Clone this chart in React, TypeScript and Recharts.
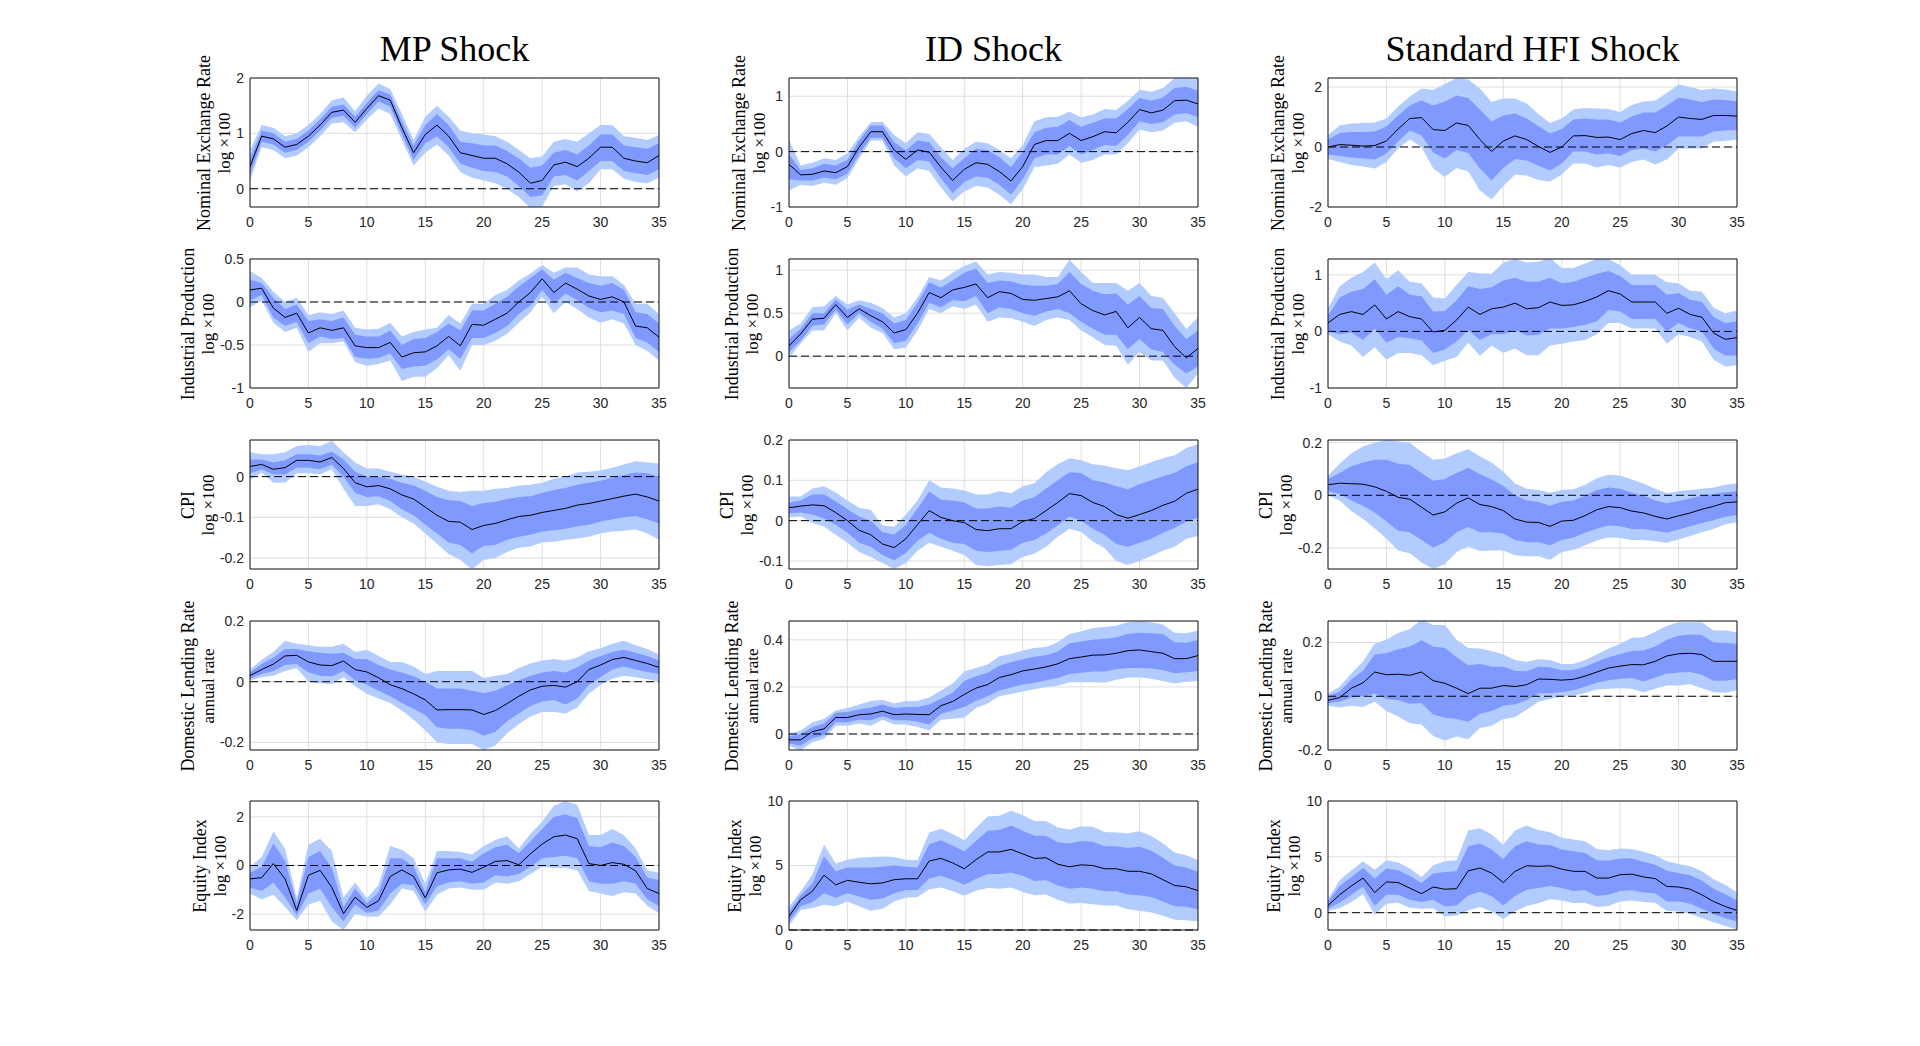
import React from "react";
import {
  ComposedChart,
  Area,
  Line,
  XAxis,
  YAxis,
  CartesianGrid,
  ReferenceLine,
  ReferenceArea,
} from "recharts";

// horizons (months) and shared x ticks
const HORIZONS = [
  0, 1, 2, 3, 4, 5, 6, 7, 8, 9, 10, 11, 12, 13, 14, 15, 16, 17, 18, 19, 20,
  21, 22, 23, 24, 25, 26, 27, 28, 29, 30, 31, 32, 33, 34, 35,
];
const X_TICKS = [0, 5, 10, 15, 20, 25, 30, 35];

const SHOCKS = ["MP Shock", "ID Shock", "Standard HFI Shock"];
const VARIABLES = [
  ["Nominal Exchange Rate", "log ×100"],
  ["Industrial Production", "log ×100"],
  ["CPI", "log ×100"],
  ["Domestic Lending Rate", "annual rate"],
  ["Equity Index", "log ×100"],
];

// ---------- MP shock ----------
const mpNerMid = [0.4,0.95,0.9,0.75,0.8,0.95,1.15,1.38,1.42,1.2,1.45,1.68,1.6,1.1,0.65,0.98,1.15,0.95,0.65,0.6,0.55,0.55,0.45,0.3,0.1,0.15,0.43,0.48,0.4,0.55,0.75,0.75,0.55,0.5,0.47,0.6];
const mpNerHi68 = [0.55,1.05,1.0,0.85,0.9,1.05,1.25,1.48,1.52,1.3,1.55,1.78,1.7,1.22,0.78,1.15,1.35,1.15,0.85,0.82,0.78,0.78,0.68,0.55,0.38,0.42,0.65,0.7,0.62,0.78,0.98,0.98,0.78,0.75,0.72,0.82];
const mpNerLo68 = [0.25,0.85,0.8,0.65,0.7,0.85,1.05,1.28,1.32,1.1,1.35,1.58,1.48,0.98,0.52,0.82,0.95,0.75,0.45,0.38,0.32,0.3,0.22,0.05,-0.15,-0.12,0.22,0.25,0.15,0.32,0.5,0.5,0.32,0.28,0.25,0.35];
const mpNerHi90 = [0.7,1.15,1.1,0.95,1.0,1.15,1.35,1.6,1.65,1.4,1.68,1.9,1.8,1.35,0.88,1.3,1.5,1.3,1.05,1.0,0.98,0.95,0.85,0.7,0.55,0.58,0.85,0.9,0.85,1.0,1.15,1.15,0.95,0.92,0.88,0.97];
const mpNerLo90 = [0.15,0.75,0.7,0.55,0.6,0.75,0.95,1.18,1.2,1.02,1.25,1.45,1.35,0.88,0.42,0.65,0.8,0.6,0.3,0.2,0.15,0.1,0.0,-0.15,-0.35,-0.32,0.05,0.08,-0.05,0.1,0.35,0.35,0.18,0.12,0.1,0.2];

const mpIpMid = [0.14,0.16,-0.07,-0.18,-0.13,-0.36,-0.3,-0.33,-0.3,-0.51,-0.53,-0.53,-0.47,-0.64,-0.59,-0.58,-0.51,-0.4,-0.51,-0.26,-0.27,-0.2,-0.13,0.0,0.11,0.27,0.11,0.22,0.15,0.07,0.03,0.06,0.0,-0.28,-0.3,-0.41];
const mpIpHi68 = [0.26,0.22,0.05,-0.08,-0.03,-0.22,-0.2,-0.22,-0.18,-0.38,-0.4,-0.4,-0.33,-0.5,-0.43,-0.42,-0.35,-0.25,-0.33,-0.1,-0.1,-0.02,0.06,0.18,0.28,0.38,0.26,0.34,0.28,0.22,0.19,0.22,0.14,-0.12,-0.14,-0.25];
const mpIpLo68 = [0.02,0.08,-0.18,-0.28,-0.23,-0.48,-0.4,-0.43,-0.42,-0.64,-0.66,-0.65,-0.6,-0.78,-0.75,-0.74,-0.67,-0.55,-0.66,-0.42,-0.42,-0.36,-0.28,-0.14,-0.04,0.14,-0.02,0.1,0.02,-0.07,-0.12,-0.1,-0.14,-0.42,-0.47,-0.58];
const mpIpHi90 = [0.36,0.28,0.12,0.0,0.05,-0.15,-0.12,-0.14,-0.1,-0.3,-0.32,-0.31,-0.24,-0.4,-0.35,-0.32,-0.3,-0.15,-0.25,-0.02,-0.02,0.08,0.14,0.25,0.33,0.43,0.34,0.4,0.4,0.32,0.3,0.3,0.2,-0.02,-0.02,-0.14];
const mpIpLo90 = [-0.06,0.02,-0.24,-0.35,-0.3,-0.58,-0.48,-0.48,-0.46,-0.7,-0.74,-0.72,-0.68,-0.92,-0.87,-0.87,-0.77,-0.62,-0.8,-0.5,-0.5,-0.45,-0.37,-0.24,-0.12,0.06,-0.13,0.0,-0.08,-0.18,-0.24,-0.2,-0.25,-0.5,-0.57,-0.68];

const mpCpiMid = [0.025,0.03,0.018,0.022,0.04,0.04,0.036,0.047,0.02,-0.015,-0.025,-0.022,-0.03,-0.045,-0.055,-0.075,-0.095,-0.11,-0.112,-0.13,-0.12,-0.115,-0.106,-0.098,-0.095,-0.088,-0.083,-0.078,-0.07,-0.066,-0.06,-0.054,-0.048,-0.043,-0.05,-0.06];
const mpCpiHi68 = [0.042,0.042,0.035,0.04,0.055,0.055,0.052,0.062,0.042,0.012,0.0,0.0,-0.005,-0.015,-0.022,-0.035,-0.05,-0.058,-0.06,-0.072,-0.065,-0.062,-0.055,-0.05,-0.048,-0.04,-0.033,-0.028,-0.02,-0.015,-0.01,-0.003,0.004,0.01,0.008,0.0];
const mpCpiLo68 = [0.008,0.018,0.005,0.005,0.022,0.022,0.018,0.03,0.0,-0.04,-0.05,-0.048,-0.06,-0.08,-0.095,-0.118,-0.14,-0.162,-0.168,-0.188,-0.17,-0.168,-0.155,-0.148,-0.143,-0.135,-0.132,-0.128,-0.122,-0.118,-0.11,-0.105,-0.1,-0.097,-0.105,-0.115];
const mpCpiHi90 = [0.06,0.055,0.055,0.06,0.075,0.078,0.075,0.088,0.06,0.035,0.02,0.02,0.012,0.005,0.0,-0.012,-0.025,-0.035,-0.038,-0.035,-0.035,-0.03,-0.028,-0.022,-0.02,-0.015,-0.005,0.0,0.01,0.012,0.015,0.022,0.03,0.038,0.035,0.032];
const mpCpiLo90 = [-0.008,0.01,-0.015,-0.015,0.008,0.008,0.005,0.018,-0.03,-0.072,-0.072,-0.068,-0.08,-0.1,-0.115,-0.14,-0.165,-0.19,-0.205,-0.228,-0.205,-0.2,-0.185,-0.175,-0.172,-0.162,-0.16,-0.155,-0.152,-0.148,-0.14,-0.135,-0.133,-0.13,-0.14,-0.155];

const mpDlrMid = [0.02,0.04,0.058,0.085,0.087,0.065,0.055,0.053,0.068,0.04,0.032,0.013,-0.01,-0.023,-0.04,-0.06,-0.093,-0.092,-0.092,-0.093,-0.108,-0.095,-0.072,-0.048,-0.027,-0.015,-0.012,-0.018,0.0,0.04,0.055,0.073,0.08,0.07,0.06,0.047];
const mpDlrHi68 = [0.03,0.058,0.08,0.108,0.108,0.1,0.095,0.092,0.095,0.075,0.075,0.055,0.04,0.03,0.018,0.0,-0.022,-0.022,-0.022,-0.03,-0.038,-0.03,-0.012,0.005,0.02,0.03,0.035,0.03,0.048,0.07,0.085,0.098,0.105,0.095,0.085,0.07];
const mpDlrLo68 = [0.01,0.025,0.035,0.055,0.058,0.03,0.02,0.018,0.035,0.005,-0.01,-0.03,-0.048,-0.07,-0.09,-0.11,-0.15,-0.155,-0.155,-0.16,-0.178,-0.165,-0.13,-0.105,-0.08,-0.065,-0.06,-0.075,-0.055,-0.01,0.015,0.04,0.05,0.04,0.032,0.025];
const mpDlrHi90 = [0.04,0.072,0.098,0.135,0.125,0.12,0.115,0.115,0.125,0.098,0.105,0.085,0.065,0.065,0.05,0.025,0.035,0.035,0.035,0.035,0.012,0.02,0.025,0.045,0.06,0.07,0.075,0.07,0.08,0.1,0.11,0.125,0.135,0.12,0.108,0.09];
const mpDlrLo90 = [0.005,0.015,0.02,0.035,0.045,0.0,-0.005,-0.008,0.015,-0.015,-0.04,-0.055,-0.07,-0.095,-0.125,-0.16,-0.2,-0.205,-0.205,-0.205,-0.225,-0.21,-0.17,-0.14,-0.115,-0.1,-0.1,-0.105,-0.085,-0.04,-0.01,0.01,0.02,0.015,0.008,0.0];

const mpEqMid = [-0.55,-0.5,0.08,-0.55,-1.85,-0.4,-0.2,-0.9,-1.98,-1.3,-1.72,-1.45,-0.45,-0.18,-0.45,-1.33,-0.3,-0.18,-0.15,-0.28,-0.07,0.17,0.2,0.03,0.48,0.88,1.18,1.25,1.1,0.08,0.0,0.12,0.05,-0.22,-0.95,-1.15];
const mpEqHi68 = [-0.3,-0.05,0.9,0.2,-1.55,0.35,0.6,-0.1,-1.7,-0.95,-1.55,-1.1,0.3,0.3,-0.05,-1.1,0.3,0.3,0.3,0.15,0.5,0.75,0.85,0.5,1.0,1.5,2.0,2.1,1.95,0.8,0.75,0.95,0.8,0.35,-0.5,-0.6];
const mpEqLo68 = [-0.9,-1.05,-0.7,-1.3,-2.05,-1.15,-0.95,-1.7,-2.3,-1.6,-1.95,-1.85,-1.15,-0.75,-0.8,-1.6,-0.85,-0.7,-0.65,-0.75,-0.7,-0.4,-0.45,-0.35,-0.05,0.3,0.35,0.4,0.3,-0.65,-0.75,-0.75,-0.65,-0.75,-1.4,-1.65];
const mpEqHi90 = [-0.05,0.35,1.4,0.7,-1.35,0.85,1.1,0.6,-1.3,-0.7,-1.35,-0.8,0.8,0.65,0.3,-0.75,0.6,0.6,0.55,0.45,0.8,1.05,1.2,0.7,1.3,1.8,2.45,2.65,2.5,1.25,1.25,1.5,1.25,0.7,-0.2,-0.3];
const mpEqLo90 = [-1.15,-1.4,-1.2,-1.7,-2.25,-1.6,-1.45,-2.3,-2.65,-2.0,-2.1,-2.1,-1.6,-0.95,-1.05,-1.9,-1.2,-0.95,-0.9,-1.0,-1.0,-0.7,-0.75,-0.65,-0.35,-0.05,-0.1,-0.1,-0.2,-1.05,-1.15,-1.25,-1.1,-1.15,-1.65,-1.95];

// ---------- ID shock ----------
const idNerMid = [-0.23,-0.42,-0.41,-0.35,-0.38,-0.27,0.08,0.36,0.36,0.03,-0.14,0.03,-0.01,-0.28,-0.52,-0.32,-0.2,-0.23,-0.36,-0.53,-0.27,0.13,0.2,0.2,0.33,0.2,0.27,0.36,0.34,0.53,0.76,0.7,0.75,0.92,0.93,0.86];
const idNerHi68 = [-0.05,-0.33,-0.3,-0.22,-0.25,-0.15,0.2,0.47,0.47,0.17,0.02,0.2,0.17,-0.1,-0.3,-0.12,0.05,0.03,-0.1,-0.28,0.0,0.35,0.43,0.45,0.57,0.45,0.52,0.6,0.6,0.77,0.97,0.92,0.98,1.15,1.17,1.1];
const idNerLo68 = [-0.5,-0.52,-0.52,-0.47,-0.5,-0.4,-0.05,0.25,0.25,-0.12,-0.3,-0.15,-0.18,-0.48,-0.75,-0.55,-0.45,-0.47,-0.6,-0.78,-0.5,-0.12,-0.05,-0.05,0.1,-0.05,0.03,0.12,0.1,0.3,0.55,0.5,0.53,0.67,0.7,0.62];
const idNerHi90 = [0.22,-0.25,-0.2,-0.12,-0.15,-0.03,0.27,0.53,0.54,0.3,0.15,0.35,0.32,0.08,-0.15,0.05,0.18,0.15,0.03,-0.12,0.12,0.55,0.62,0.63,0.72,0.62,0.67,0.77,0.75,0.92,1.12,1.08,1.15,1.33,1.33,1.33];
const idNerLo90 = [-0.7,-0.6,-0.62,-0.56,-0.6,-0.48,-0.12,0.2,0.2,-0.25,-0.45,-0.3,-0.35,-0.65,-0.9,-0.72,-0.62,-0.65,-0.78,-0.95,-0.68,-0.28,-0.25,-0.22,-0.05,-0.2,-0.15,-0.05,-0.05,0.15,0.4,0.35,0.38,0.52,0.55,0.45];

const idIpMid = [0.12,0.26,0.43,0.44,0.6,0.45,0.55,0.47,0.4,0.27,0.31,0.5,0.74,0.68,0.77,0.8,0.84,0.68,0.75,0.73,0.66,0.65,0.67,0.69,0.76,0.61,0.53,0.48,0.52,0.33,0.45,0.32,0.3,0.11,-0.02,0.09];
const idIpHi68 = [0.2,0.32,0.5,0.5,0.66,0.54,0.6,0.55,0.5,0.38,0.42,0.62,0.86,0.8,0.88,0.97,1.02,0.85,0.88,0.87,0.83,0.82,0.82,0.84,0.98,0.84,0.76,0.72,0.73,0.6,0.7,0.56,0.55,0.35,0.2,0.3];
const idIpLo68 = [0.05,0.18,0.35,0.37,0.54,0.37,0.5,0.4,0.32,0.15,0.18,0.38,0.62,0.57,0.65,0.64,0.7,0.5,0.57,0.55,0.5,0.47,0.52,0.55,0.5,0.4,0.32,0.25,0.25,0.08,0.2,0.08,0.05,-0.1,-0.2,-0.12];
const idIpHi90 = [0.3,0.38,0.57,0.58,0.7,0.6,0.65,0.62,0.56,0.45,0.5,0.68,0.92,0.88,0.97,1.05,1.1,0.95,0.98,0.97,0.95,0.95,0.92,0.92,1.12,0.98,0.85,0.85,0.85,0.76,0.85,0.7,0.68,0.5,0.32,0.45];
const idIpLo90 = [-0.02,0.15,0.3,0.3,0.5,0.3,0.45,0.33,0.27,0.08,0.1,0.3,0.55,0.5,0.58,0.55,0.6,0.4,0.45,0.44,0.4,0.35,0.42,0.45,0.42,0.3,0.22,0.13,0.12,-0.1,0.05,-0.05,-0.05,-0.25,-0.37,-0.2];

const idCpiMid = [0.032,0.036,0.039,0.037,0.02,0.0,-0.024,-0.035,-0.058,-0.067,-0.045,-0.01,0.025,0.008,0.0,-0.005,-0.022,-0.025,-0.02,-0.02,-0.002,0.005,0.025,0.045,0.067,0.062,0.045,0.035,0.015,0.006,0.015,0.025,0.038,0.048,0.068,0.078];
const idCpiHi68 = [0.045,0.05,0.065,0.065,0.048,0.028,0.01,0.0,-0.028,-0.035,-0.01,0.03,0.072,0.052,0.05,0.045,0.03,0.03,0.035,0.032,0.05,0.058,0.08,0.1,0.12,0.118,0.1,0.095,0.085,0.078,0.09,0.1,0.11,0.118,0.135,0.145];
const idCpiLo68 = [0.018,0.02,0.015,0.005,-0.01,-0.03,-0.055,-0.065,-0.085,-0.098,-0.08,-0.05,-0.03,-0.045,-0.055,-0.058,-0.075,-0.078,-0.075,-0.072,-0.055,-0.048,-0.032,-0.012,0.01,0.0,-0.02,-0.035,-0.058,-0.065,-0.055,-0.045,-0.03,-0.018,-0.002,0.008];
const idCpiHi90 = [0.06,0.06,0.08,0.085,0.07,0.05,0.032,0.027,-0.012,-0.015,0.015,0.05,0.1,0.082,0.08,0.075,0.065,0.065,0.073,0.068,0.085,0.093,0.12,0.14,0.155,0.15,0.14,0.137,0.13,0.125,0.135,0.145,0.155,0.162,0.18,0.19];
const idCpiLo90 = [0.008,0.01,-0.005,-0.015,-0.035,-0.055,-0.078,-0.09,-0.105,-0.12,-0.105,-0.075,-0.055,-0.065,-0.075,-0.085,-0.11,-0.113,-0.11,-0.108,-0.09,-0.082,-0.065,-0.04,-0.02,-0.028,-0.052,-0.068,-0.1,-0.11,-0.1,-0.088,-0.075,-0.065,-0.045,-0.038];

const idDlrMid = [-0.025,-0.025,0.01,0.022,0.07,0.07,0.082,0.085,0.097,0.082,0.085,0.083,0.082,0.12,0.138,0.168,0.195,0.21,0.24,0.252,0.268,0.276,0.285,0.298,0.32,0.327,0.335,0.336,0.343,0.354,0.357,0.35,0.343,0.32,0.32,0.333];
const idDlrHi68 = [-0.01,0.0,0.03,0.045,0.09,0.093,0.105,0.113,0.125,0.11,0.115,0.115,0.125,0.15,0.175,0.225,0.245,0.26,0.29,0.305,0.318,0.328,0.335,0.35,0.385,0.393,0.4,0.405,0.41,0.425,0.43,0.428,0.425,0.39,0.388,0.4];
const idDlrLo68 = [-0.04,-0.05,-0.018,-0.005,0.05,0.05,0.06,0.058,0.075,0.058,0.058,0.052,0.04,0.085,0.1,0.115,0.14,0.16,0.185,0.198,0.21,0.218,0.228,0.238,0.255,0.26,0.265,0.265,0.275,0.28,0.28,0.278,0.272,0.258,0.262,0.268];
const idDlrHi90 = [0.0,0.015,0.05,0.065,0.1,0.11,0.125,0.14,0.145,0.13,0.14,0.14,0.155,0.185,0.215,0.265,0.28,0.295,0.33,0.34,0.355,0.365,0.37,0.39,0.425,0.435,0.45,0.455,0.46,0.475,0.48,0.475,0.465,0.43,0.428,0.44];
const idDlrLo90 = [-0.05,-0.07,-0.035,-0.02,0.035,0.035,0.045,0.035,0.06,0.04,0.04,0.03,0.015,0.06,0.065,0.07,0.11,0.13,0.16,0.17,0.18,0.19,0.2,0.205,0.22,0.22,0.22,0.218,0.23,0.24,0.24,0.235,0.225,0.215,0.222,0.225];

const idEqMid = [1.05,2.35,3.0,4.25,3.5,3.85,3.7,3.58,3.65,3.9,3.97,3.97,5.35,5.55,5.2,4.75,5.45,6.05,6.05,6.25,5.9,5.55,5.6,5.1,4.9,5.05,5.0,4.75,4.75,4.55,4.55,4.35,3.9,3.45,3.35,3.05];
const idEqHi68 = [1.4,2.7,3.6,5.7,4.55,4.85,4.85,4.85,4.9,5.0,4.9,4.85,6.65,6.95,6.55,6.1,6.9,7.7,7.75,8.1,7.7,7.3,7.3,6.8,6.7,6.9,6.85,6.5,6.5,6.35,6.45,6.15,5.6,5.0,4.85,4.5];
const idEqLo68 = [0.65,1.85,2.15,2.85,2.5,2.85,2.6,2.35,2.45,2.85,3.1,3.1,4.0,4.2,3.9,3.5,3.95,4.35,4.35,4.45,4.2,3.8,3.85,3.45,3.2,3.3,3.2,3.0,3.0,2.75,2.7,2.55,2.2,1.85,1.8,1.6];
const idEqHi90 = [1.8,3.0,4.3,6.6,5.15,5.45,5.6,5.65,5.7,5.65,5.45,5.4,7.55,7.85,7.45,6.95,7.9,8.8,8.85,9.25,8.9,8.45,8.45,7.95,7.8,8.05,8.0,7.6,7.55,7.5,7.65,7.3,6.7,6.0,5.8,5.45];
const idEqLo90 = [0.35,1.55,1.7,1.95,1.85,2.2,1.85,1.5,1.65,2.2,2.5,2.55,3.15,3.3,3.0,2.65,3.05,3.25,3.2,3.3,2.95,2.7,2.75,2.35,2.05,2.1,2.0,1.9,1.9,1.6,1.5,1.35,1.1,0.8,0.75,0.65];

// ---------- Standard HFI shock ----------
const hfiNerMid = [0.0,0.08,0.06,0.03,0.05,0.2,0.6,0.95,0.98,0.58,0.55,0.8,0.72,0.25,-0.15,0.2,0.37,0.25,0.02,-0.18,0.0,0.37,0.38,0.32,0.33,0.25,0.45,0.55,0.48,0.7,1.0,0.95,0.92,1.05,1.05,1.03];
const hfiNerHi68 = [0.25,0.47,0.5,0.5,0.52,0.68,1.05,1.38,1.55,1.38,1.52,1.72,1.63,1.25,0.85,1.05,1.12,0.95,0.7,0.45,0.6,0.92,0.95,0.92,0.92,0.82,1.02,1.15,1.15,1.38,1.65,1.58,1.5,1.58,1.57,1.52];
const hfiNerLo68 = [-0.25,-0.3,-0.35,-0.38,-0.42,-0.22,0.18,0.55,0.38,-0.18,-0.38,-0.1,-0.2,-0.72,-1.12,-0.7,-0.4,-0.45,-0.62,-0.78,-0.55,-0.15,-0.15,-0.25,-0.22,-0.3,-0.1,-0.05,-0.15,0.05,0.35,0.35,0.35,0.52,0.55,0.57];
const hfiNerHi90 = [0.4,0.72,0.78,0.8,0.82,0.95,1.35,1.68,1.95,1.9,2.1,2.3,2.25,1.95,1.5,1.62,1.62,1.45,1.1,0.8,0.95,1.25,1.3,1.28,1.27,1.17,1.4,1.52,1.55,1.8,2.08,2.0,1.9,1.95,1.92,1.85];
const hfiNerLo90 = [-0.4,-0.5,-0.6,-0.65,-0.72,-0.5,-0.05,0.25,0.0,-0.72,-1.0,-0.7,-0.82,-1.45,-1.75,-1.3,-0.92,-0.95,-1.1,-1.15,-0.92,-0.55,-0.55,-0.68,-0.6,-0.68,-0.5,-0.42,-0.58,-0.42,-0.05,-0.05,-0.05,0.18,0.2,0.25];

const hfiIpMid = [0.15,0.3,0.35,0.3,0.47,0.22,0.35,0.26,0.22,-0.01,0.02,0.2,0.43,0.3,0.4,0.43,0.5,0.4,0.42,0.52,0.46,0.47,0.53,0.61,0.72,0.66,0.52,0.52,0.52,0.32,0.41,0.3,0.25,-0.03,-0.14,-0.11];
const hfiIpHi68 = [0.28,0.6,0.7,0.75,0.92,0.65,0.8,0.65,0.62,0.35,0.36,0.55,0.8,0.75,0.78,0.9,0.95,0.88,0.88,0.95,0.85,0.88,0.95,1.02,1.07,0.98,0.82,0.82,0.82,0.65,0.68,0.56,0.52,0.25,0.15,0.18];
const hfiIpLo68 = [0.0,-0.05,-0.02,-0.15,0.05,-0.2,-0.1,-0.12,-0.16,-0.38,-0.32,-0.18,0.02,-0.15,-0.05,-0.05,0.02,-0.07,-0.06,0.05,0.05,0.08,0.12,0.18,0.38,0.35,0.22,0.22,0.22,0.0,0.15,0.05,0.0,-0.3,-0.43,-0.42];
const hfiIpHi90 = [0.4,0.8,0.95,1.05,1.22,0.92,1.08,0.88,0.85,0.6,0.58,0.82,1.05,1.03,1.02,1.22,1.28,1.22,1.23,1.3,1.12,1.12,1.2,1.28,1.28,1.17,1.0,1.0,1.0,0.87,0.85,0.72,0.7,0.42,0.32,0.37];
const hfiIpLo90 = [-0.05,-0.18,-0.25,-0.45,-0.28,-0.5,-0.38,-0.38,-0.42,-0.6,-0.52,-0.45,-0.2,-0.43,-0.25,-0.38,-0.3,-0.42,-0.42,-0.25,-0.22,-0.18,-0.15,-0.05,0.15,0.15,0.05,0.05,0.05,-0.22,-0.05,-0.1,-0.18,-0.5,-0.62,-0.6];

const hfiCpiMid = [0.04,0.046,0.044,0.042,0.032,0.015,-0.008,-0.015,-0.045,-0.075,-0.063,-0.03,-0.01,-0.035,-0.043,-0.058,-0.09,-0.102,-0.103,-0.118,-0.098,-0.095,-0.077,-0.055,-0.043,-0.047,-0.06,-0.067,-0.08,-0.09,-0.078,-0.067,-0.053,-0.042,-0.028,-0.025];
const hfiCpiHi68 = [0.062,0.085,0.11,0.125,0.135,0.135,0.12,0.115,0.085,0.055,0.062,0.085,0.105,0.08,0.06,0.035,0.0,-0.02,-0.025,-0.04,-0.025,-0.02,-0.002,0.02,0.03,0.025,0.01,-0.002,-0.02,-0.03,-0.022,-0.012,-0.002,0.005,0.012,0.015];
const hfiCpiLo68 = [0.015,0.005,-0.02,-0.04,-0.065,-0.1,-0.135,-0.14,-0.17,-0.198,-0.178,-0.14,-0.12,-0.14,-0.14,-0.145,-0.17,-0.178,-0.178,-0.19,-0.17,-0.16,-0.142,-0.127,-0.115,-0.118,-0.128,-0.128,-0.135,-0.142,-0.13,-0.118,-0.105,-0.095,-0.082,-0.075];
const hfiCpiHi90 = [0.075,0.12,0.16,0.185,0.2,0.21,0.205,0.2,0.165,0.135,0.14,0.16,0.175,0.148,0.125,0.09,0.045,0.025,0.02,0.01,0.02,0.023,0.04,0.065,0.078,0.075,0.06,0.045,0.025,0.008,0.015,0.02,0.025,0.03,0.04,0.045];
const hfiCpiLo90 = [0.0,-0.02,-0.06,-0.09,-0.125,-0.165,-0.21,-0.22,-0.255,-0.28,-0.262,-0.215,-0.195,-0.212,-0.21,-0.21,-0.228,-0.232,-0.232,-0.245,-0.215,-0.208,-0.19,-0.172,-0.16,-0.162,-0.17,-0.17,-0.175,-0.18,-0.168,-0.155,-0.14,-0.128,-0.11,-0.102];

const hfiDlrMid = [-0.015,-0.005,0.03,0.05,0.09,0.08,0.082,0.078,0.09,0.058,0.048,0.03,0.01,0.03,0.03,0.04,0.036,0.043,0.064,0.063,0.06,0.063,0.075,0.09,0.105,0.112,0.118,0.117,0.13,0.15,0.158,0.16,0.155,0.13,0.13,0.13];
const hfiDlrHi68 = [0.0,0.018,0.062,0.095,0.155,0.16,0.175,0.185,0.208,0.185,0.18,0.145,0.115,0.12,0.11,0.11,0.095,0.093,0.11,0.108,0.097,0.098,0.11,0.128,0.145,0.157,0.168,0.17,0.185,0.21,0.225,0.23,0.228,0.2,0.198,0.195];
const hfiDlrLo68 = [-0.025,-0.02,-0.005,0.0,0.01,-0.01,-0.015,-0.028,-0.025,-0.068,-0.08,-0.085,-0.095,-0.065,-0.055,-0.035,-0.03,-0.015,0.01,0.012,0.015,0.022,0.035,0.05,0.06,0.065,0.068,0.055,0.07,0.085,0.088,0.09,0.08,0.058,0.058,0.063];
const hfiDlrHi90 = [0.01,0.035,0.085,0.13,0.195,0.21,0.235,0.25,0.285,0.265,0.265,0.21,0.18,0.178,0.168,0.155,0.135,0.128,0.138,0.135,0.12,0.12,0.135,0.155,0.178,0.195,0.218,0.22,0.24,0.262,0.275,0.275,0.275,0.245,0.245,0.238];
const hfiDlrLo90 = [-0.035,-0.042,-0.035,-0.04,-0.02,-0.055,-0.075,-0.1,-0.105,-0.148,-0.165,-0.15,-0.16,-0.118,-0.11,-0.085,-0.078,-0.05,-0.02,-0.01,0.0,0.002,0.012,0.025,0.028,0.03,0.028,0.015,0.028,0.04,0.04,0.045,0.03,0.015,0.013,0.022];

const hfiEqMid = [0.65,1.6,2.4,3.1,1.8,2.75,2.7,2.2,1.7,2.3,2.1,2.15,3.75,4.0,3.55,2.7,3.7,4.2,4.15,4.2,3.9,3.7,3.7,3.1,3.1,3.4,3.45,3.2,3.05,2.35,2.3,2.1,1.6,1.0,0.55,0.2];
const hfiEqHi68 = [1.0,2.4,3.2,4.0,3.05,3.95,3.8,3.3,2.65,3.5,3.65,3.7,5.95,6.2,5.65,4.8,5.95,6.4,6.1,6.05,5.65,5.5,5.35,4.7,4.65,4.85,4.85,4.55,4.3,3.75,3.55,3.35,2.85,2.15,1.65,1.1];
const hfiEqLo68 = [0.35,0.9,1.6,2.3,0.6,1.6,1.6,1.15,0.95,1.15,0.55,0.65,1.55,1.9,1.5,0.65,1.5,2.05,2.2,2.4,2.2,1.95,2.0,1.5,1.6,1.95,2.0,1.8,1.75,1.0,1.0,0.8,0.35,-0.15,-0.5,-0.8];
const hfiEqHi90 = [1.2,2.9,3.8,4.6,3.85,4.7,4.5,3.95,3.2,4.25,4.6,4.7,7.35,7.55,7.0,6.1,7.35,7.8,7.4,7.2,6.7,6.55,6.4,5.7,5.6,5.75,5.7,5.45,5.15,4.6,4.35,4.15,3.7,3.0,2.5,1.8];
const hfiEqLo90 = [0.15,0.4,0.95,1.65,-0.2,0.8,0.9,0.45,0.35,0.4,-0.35,-0.25,0.2,0.5,0.1,-0.55,0.1,0.6,0.85,1.2,1.1,0.85,0.9,0.5,0.6,1.0,1.1,0.95,0.9,0.15,0.1,-0.1,-0.5,-0.85,-1.2,-1.5];

// panel table: [column][row]
const PANELS = [
  [
    { mid: mpNerMid, lo68: mpNerLo68, hi68: mpNerHi68, lo90: mpNerLo90, hi90: mpNerHi90, domain: [-0.33, 2], ticks: [0, 1, 2] },
    { mid: mpIpMid, lo68: mpIpLo68, hi68: mpIpHi68, lo90: mpIpLo90, hi90: mpIpHi90, domain: [-1, 0.5], ticks: [-1, -0.5, 0, 0.5] },
    { mid: mpCpiMid, lo68: mpCpiLo68, hi68: mpCpiHi68, lo90: mpCpiLo90, hi90: mpCpiHi90, domain: [-0.227, 0.09], ticks: [-0.2, -0.1, 0] },
    { mid: mpDlrMid, lo68: mpDlrLo68, hi68: mpDlrHi68, lo90: mpDlrLo90, hi90: mpDlrHi90, domain: [-0.225, 0.2], ticks: [-0.2, 0, 0.2] },
    { mid: mpEqMid, lo68: mpEqLo68, hi68: mpEqHi68, lo90: mpEqLo90, hi90: mpEqHi90, domain: [-2.65, 2.65], ticks: [-2, 0, 2] },
  ],
  [
    { mid: idNerMid, lo68: idNerLo68, hi68: idNerHi68, lo90: idNerLo90, hi90: idNerHi90, domain: [-1, 1.33], ticks: [-1, 0, 1] },
    { mid: idIpMid, lo68: idIpLo68, hi68: idIpHi68, lo90: idIpLo90, hi90: idIpHi90, domain: [-0.37, 1.13], ticks: [0, 0.5, 1] },
    { mid: idCpiMid, lo68: idCpiLo68, hi68: idCpiHi68, lo90: idCpiLo90, hi90: idCpiHi90, domain: [-0.12, 0.2], ticks: [-0.1, 0, 0.1, 0.2] },
    { mid: idDlrMid, lo68: idDlrLo68, hi68: idDlrHi68, lo90: idDlrLo90, hi90: idDlrHi90, domain: [-0.068, 0.48], ticks: [0, 0.2, 0.4] },
    { mid: idEqMid, lo68: idEqLo68, hi68: idEqHi68, lo90: idEqLo90, hi90: idEqHi90, domain: [0, 10], ticks: [0, 5, 10] },
  ],
  [
    { mid: hfiNerMid, lo68: hfiNerLo68, hi68: hfiNerHi68, lo90: hfiNerLo90, hi90: hfiNerHi90, domain: [-2, 2.3], ticks: [-2, 0, 2] },
    { mid: hfiIpMid, lo68: hfiIpLo68, hi68: hfiIpHi68, lo90: hfiIpLo90, hi90: hfiIpHi90, domain: [-1, 1.28], ticks: [-1, 0, 1] },
    { mid: hfiCpiMid, lo68: hfiCpiLo68, hi68: hfiCpiHi68, lo90: hfiCpiLo90, hi90: hfiCpiHi90, domain: [-0.28, 0.21], ticks: [-0.2, 0, 0.2] },
    { mid: hfiDlrMid, lo68: hfiDlrLo68, hi68: hfiDlrHi68, lo90: hfiDlrLo90, hi90: hfiDlrHi90, domain: [-0.2, 0.28], ticks: [-0.2, 0, 0.2] },
    { mid: hfiEqMid, lo68: hfiEqLo68, hi68: hfiEqHi68, lo90: hfiEqLo90, hi90: hfiEqHi90, domain: [-1.55, 10], ticks: [0, 5, 10] },
  ],
];

// layout
const COL_LEFT = [250, 789, 1328];
const ROW_TOP = [78, 259, 440, 621, 801];
const PLOT_W = 409;
const PLOT_H = 129;
const ML = 60;
const MT = 14;
const MR = 8;
const MB = 32;

const TICK_FONT = 14;
const SANS = "'Liberation Sans', Arial, Helvetica, sans-serif";
const SERIF = "'Liberation Serif', 'Times New Roman', serif";

const OUTER = "#b3ccff";
const INNER = "#8099ff";

// rough width of a tick label in px
function tickWidth(s: string) {
  let w = 0;
  for (const ch of s) w += ch === "." ? 0.278 : ch === "-" ? 0.333 : 0.556;
  return w * TICK_FONT;
}

function Panel({ p, left, top, label }: any) {
  const data = HORIZONS.map((h, i) => ({
    h,
    mid: p.mid[i],
    b68: [p.lo68[i], p.hi68[i]],
    b90: [p.lo90[i], p.hi90[i]],
  }));
  const maxW = Math.max(...p.ticks.map((t: number) => tickWidth(String(t))));
  const off2 = 18 + maxW;
  const off1 = off2 + 20;
  const cy = top + PLOT_H / 2;

  return (
    <>
      <div style={{ position: "absolute", left: left - ML, top: top - MT }}>
        <ComposedChart
          width={PLOT_W + ML + MR}
          height={PLOT_H + MT + MB}
          data={data}
          margin={{ top: MT, right: MR, bottom: 0, left: 0 }}
        >
          <CartesianGrid stroke="#dedede" strokeWidth={1} />
          <XAxis
            dataKey="h"
            type="number"
            domain={[0, 35]}
            ticks={X_TICKS}
            interval={0}
            axisLine={false}
            tickLine={false}
            tickSize={6}
            tickMargin={4}
            height={MB}
            tick={{ fontSize: TICK_FONT, fill: "#262626", fontFamily: SANS }}
            allowDataOverflow
          />
          <YAxis
            type="number"
            domain={p.domain}
            ticks={p.ticks}
            interval={0}
            axisLine={false}
            tickLine={false}
            tickSize={6}
            tickMargin={0}
            width={ML}
            tick={{ fontSize: TICK_FONT, fill: "#262626", fontFamily: SANS }}
            allowDataOverflow
          />
          <Area
            dataKey="b90"
            type="linear"
            stroke="none"
            fill={OUTER}
            fillOpacity={1}
            dot={false}
            activeDot={false}
            isAnimationActive={false}
          />
          <Area
            dataKey="b68"
            type="linear"
            stroke="none"
            fill={INNER}
            fillOpacity={1}
            dot={false}
            activeDot={false}
            isAnimationActive={false}
          />
          <ReferenceLine y={0} stroke="#000" strokeWidth={1} strokeDasharray="8 4" />
          <Line
            dataKey="mid"
            type="linear"
            stroke="#000"
            strokeWidth={1}
            dot={false}
            activeDot={false}
            isAnimationActive={false}
          />
          <ReferenceArea
            x1={0}
            x2={35}
            y1={p.domain[0]}
            y2={p.domain[1]}
            fill="none"
            fillOpacity={0}
            stroke="#000"
            strokeWidth={0.9}
          />
        </ComposedChart>
      </div>
      <div
        style={{
          position: "absolute",
          left: left - off1,
          top: cy,
          transform: "translate(-50%, -50%) rotate(-90deg)",
          whiteSpace: "nowrap",
          fontFamily: SERIF,
          fontSize: 18,
          lineHeight: 1,
          color: "#000",
        }}
      >
        {label[0]}
      </div>
      <div
        style={{
          position: "absolute",
          left: left - off2,
          top: cy,
          transform: "translate(-50%, -50%) rotate(-90deg)",
          whiteSpace: "nowrap",
          fontFamily: SERIF,
          fontSize: 17,
          lineHeight: 1,
          color: "#000",
        }}
      >
        {label[1]}
      </div>
    </>
  );
}

export default function App() {
  return (
    <div
      style={{
        position: "absolute",
        left: 0,
        top: 0,
        width: 1920,
        height: 1046,
        background: "#fff",
        overflow: "hidden",
      }}
    >
      {SHOCKS.map((title, c) => (
        <div
          key={title}
          style={{
            position: "absolute",
            left: COL_LEFT[c],
            width: PLOT_W,
            top: 31,
            textAlign: "center",
            fontFamily: SERIF,
            fontSize: 36,
            lineHeight: 1,
            color: "#000",
          }}
        >
          {title}
        </div>
      ))}
      {PANELS.map((col, c) =>
        col.map((p, r) => (
          <Panel
            key={c + "-" + r}
            p={p}
            left={COL_LEFT[c]}
            top={ROW_TOP[r]}
            label={VARIABLES[r]}
          />
        ))
      )}
    </div>
  );
}
